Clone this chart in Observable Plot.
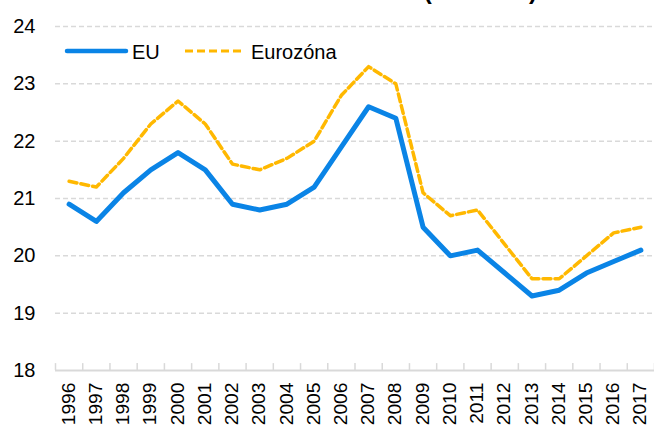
<!DOCTYPE html>
<html>
<head>
<meta charset="utf-8">
<script src="https://cdn.jsdelivr.net/npm/d3@7"></script>
<script src="https://cdn.jsdelivr.net/npm/@observablehq/plot@0.6"></script>
<style>
  html, body { margin: 0; padding: 0; background: #fff; overflow: hidden; }
  #wrap { position: relative; width: 654px; height: 426px; overflow: hidden; font-family: "Liberation Sans", Arial, sans-serif; }
  #title { position: absolute; right: 117px; top: -21px; font-size: 24px; line-height: 24px; font-weight: bold; white-space: nowrap; color: #000; }
  #legend { position: absolute; left: 0; top: 0; width: 654px; height: 80px; pointer-events: none; }
  svg.plot text { fill: #000; }
</style>
</head>
<body>
<div id="wrap">
  <div id="title">Investície (% z HDP)</div>
</div>
<script>
const years = [1996,1997,1998,1999,2000,2001,2002,2003,2004,2005,2006,2007,2008,2009,2010,2011,2012,2013,2014,2015,2016,2017];
const euValues = [20.9,20.6,21.1,21.5,21.8,21.5,20.9,20.8,20.9,21.2,21.9,22.6,22.4,20.5,20.0,20.1,19.7,19.3,19.4,19.7,19.9,20.1];
const ezValues = [21.3,21.2,21.7,22.3,22.7,22.3,21.6,21.5,21.7,22.0,22.8,23.3,23.0,21.1,20.7,20.8,20.2,19.6,19.6,20.0,20.4,20.5];
const yTicks = [18,19,20,21,22,23,24];
const seriesNames = ["EU", "Eurozóna"];
const colors = ["#0A84E6", "#FFB800"];

const eu = years.map((y, i) => ({year: y, value: euValues[i]}));
const ez = years.map((y, i) => ({year: y, value: ezValues[i]}));
const edges = d3.range(years[0] - 0.5, years[years.length - 1] + 1, 1);
const yMin = yTicks[0], yMax = yTicks[yTicks.length - 1];

const plot = Plot.plot({
  width: 654,
  height: 426,
  marginTop: 26,
  marginBottom: 56,
  marginLeft: 55,
  marginRight: 0,
  style: {fontFamily: "Liberation Sans, Arial, sans-serif", background: "#fff"},
  x: {type: "linear", domain: [years[0] - 0.5, years[years.length - 1] + 0.5]},
  y: {domain: [yMin, yMax]},
  marks: [
    Plot.ruleY(yTicks.filter(t => t > yMin), {y: d => d, stroke: "#d9d9d9", strokeWidth: 1.5, strokeDasharray: "5,3"}),
    Plot.ruleY([yMin], {stroke: "#d9d9d9", strokeWidth: 2}),
    Plot.ruleX(edges, {x: d => d, y1: yMin, y2: yMin + 0.12, stroke: "#d9d9d9", strokeWidth: 1.5}),
    Plot.axisY({ticks: yTicks, tickSize: 0, tickPadding: 20, fontSize: 20, tickFormat: d => String(d), label: null}),
    Plot.axisX({ticks: years, tickSize: 0, tickPadding: 12, tickRotate: -90, fontSize: 17.5, tickFormat: d => String(d), label: null}),
    Plot.line(ez, {x: "year", y: "value", stroke: colors[1], strokeWidth: 3.5, strokeDasharray: "8,4"}),
    Plot.line(eu, {x: "year", y: "value", stroke: colors[0], strokeWidth: 5, strokeLinejoin: "round"})
  ]
});
plot.classList.add("plot");
plot.style.position = "absolute";
plot.style.left = "0";
plot.style.top = "0";
// stretch rotated x tick labels slightly along their baseline, as in the reference
plot.querySelectorAll('g[aria-label="x-axis tick label"] text').forEach(t => {
  const tr = t.getAttribute("transform") || "";
  t.setAttribute("transform", tr + " scale(1.1,1)");
});
const wrap = document.getElementById("wrap");
wrap.insertBefore(plot, wrap.firstChild);

// legend
const ns = "http://www.w3.org/2000/svg";
const leg = document.createElementNS(ns, "svg");
leg.setAttribute("id", "legend");
leg.setAttribute("width", 654);
leg.setAttribute("height", 80);
const items = [
  {x1: 67, x2: 126, tx: 132, w: 4.5, dash: null},
  {x1: 185, x2: 245, tx: 251, w: 3, dash: "8,4"}
];
items.forEach((it, i) => {
  const l = document.createElementNS(ns, "line");
  l.setAttribute("x1", it.x1); l.setAttribute("x2", it.x2);
  l.setAttribute("y1", 51); l.setAttribute("y2", 51);
  l.setAttribute("stroke", colors[i]);
  l.setAttribute("stroke-width", it.w);
  l.setAttribute("stroke-linecap", i === 0 ? "round" : "butt");
  if (it.dash) l.setAttribute("stroke-dasharray", it.dash);
  leg.appendChild(l);
  const t = document.createElementNS(ns, "text");
  t.setAttribute("x", it.tx); t.setAttribute("y", 58.5);
  t.setAttribute("font-size", 20);
  t.setAttribute("font-family", "Liberation Sans, Arial, sans-serif");
  t.textContent = seriesNames[i];
  leg.appendChild(t);
});
wrap.appendChild(leg);
</script>
</body>
</html>
